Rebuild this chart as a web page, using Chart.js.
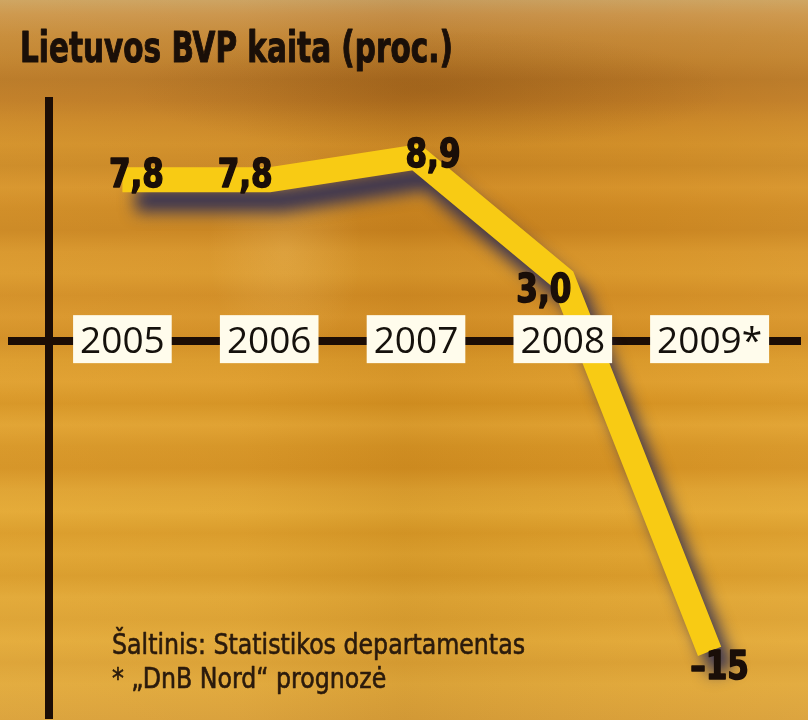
<!DOCTYPE html>
<html><head><meta charset="utf-8">
<script src="https://cdn.jsdelivr.net/npm/chart.js@4/dist/chart.umd.min.js"></script>
<style>html,body{margin:0;padding:0;background:#d48a1c;overflow:hidden}</style>
</head><body>
<canvas id="c" width="808" height="720" style="display:block;width:808px;height:720px"></canvas>
<script>
const titleText = 'Lietuvos BVP kaita (proc.)';
const years = ['2005', '2006', '2007', '2008', '2009*'];
const gdpChange = [7.8, 7.8, 8.9, 3.0, -15];
const valueLabels = ['7,8', '7,8', '8,9', '3,0', '\u201315'];
const sourceLines = ['\u0160altinis: Statistikos departamentas', '* \u201eDnB Nord\u201c prognoz\u0117'];

const NARROW = '"Liberation Sans Narrow", "Arial Narrow", "DejaVu Sans Condensed", sans-serif';
const REG = '"Open Sans", "Noto Sans", sans-serif';

function condensedText(ctx, text, x, y, weight, size, refText, refWidth, align, bolden) {
  ctx.font = weight + ' ' + size + 'px ' + NARROW;
  const sx = refWidth / ctx.measureText(refText).width;
  ctx.save();
  ctx.translate(x, y);
  ctx.scale(sx, 1);
  ctx.textAlign = align || 'left';
  if (bolden) {
    ctx.lineWidth = bolden;
    ctx.lineJoin = 'round';
    ctx.strokeStyle = ctx.fillStyle;
    ctx.strokeText(text, 0, 0);
  }
  ctx.fillText(text, 0, 0);
  ctx.restore();
}

function drawBackground(ctx, w, h) {
  const g = ctx.createLinearGradient(0, 0, 0, h);
  const stops = [
    [0.00, '#caa060'], [0.02, '#c9924a'], [0.05, '#c38636'], [0.08, '#be7e2c'],
    [0.11, '#b47222'], [0.14, '#bc7722'], [0.17, '#c98424'], [0.20, '#d08c26'],
    [0.23, '#c98522'], [0.26, '#d59028'], [0.29, '#cc8620'], [0.32, '#c8821e'],
    [0.35, '#d69228'], [0.38, '#d9962a'], [0.41, '#d08a22'], [0.44, '#d79228'],
    [0.47, '#cf8920'], [0.50, '#d99728'], [0.53, '#de9c2c'], [0.56, '#d49020'],
    [0.59, '#df9f2e'], [0.62, '#d59223'], [0.65, '#d28e20'], [0.68, '#dd9f2e'],
    [0.71, '#e2a632'], [0.74, '#d89826'], [0.77, '#dea12e'], [0.80, '#d79827'],
    [0.83, '#e0a534'], [0.86, '#db9f30'], [0.89, '#e2a838'], [0.92, '#da9f33'],
    [0.95, '#e0a73a'], [1.00, '#d89e38']
  ];
  stops.forEach(s => g.addColorStop(s[0], s[1]));
  ctx.fillStyle = g;
  ctx.fillRect(0, 0, w, h);
  const hg = ctx.createLinearGradient(0, 0, w, 0);
  hg.addColorStop(0, 'rgba(255,220,120,0.10)');
  hg.addColorStop(0.3, 'rgba(255,230,150,0.05)');
  hg.addColorStop(0.5, 'rgba(90,50,10,0.05)');
  hg.addColorStop(0.8, 'rgba(255,220,120,0.04)');
  hg.addColorStop(1, 'rgba(255,220,130,0.10)');
  ctx.fillStyle = hg;
  ctx.fillRect(0, 0, w, h);
  ctx.save();
  ctx.translate(430, 90);
  ctx.scale(5, 1);
  const dg = ctx.createRadialGradient(0, 0, 0, 0, 0, 60);
  dg.addColorStop(0, 'rgba(100,55,10,0.22)');
  dg.addColorStop(1, 'rgba(100,55,10,0)');
  ctx.fillStyle = dg;
  ctx.fillRect(-80, -60, 160, 120);
  ctx.restore();
  ctx.save();
  ctx.translate(285, 250);
  ctx.scale(0.7, 1);
  const rg = ctx.createRadialGradient(0, 0, 5, 0, 0, 110);
  rg.addColorStop(0, 'rgba(255,225,150,0.16)');
  rg.addColorStop(1, 'rgba(255,225,150,0)');
  ctx.fillStyle = rg;
  ctx.fillRect(-120, -120, 240, 240);
  ctx.restore();
}

const decor = {
  id: 'decor',
  beforeDraw(chart) {
    const ctx = chart.ctx;
    ctx.save();
    drawBackground(ctx, chart.width, chart.height);
    ctx.textBaseline = 'alphabetic';
    ctx.fillStyle = '#1a0f08';
    condensedText(ctx, titleText, 20, 62, 'bold', 42, titleText, 433, 'left', 1);
    ctx.fillStyle = '#2a1a0c';
    condensedText(ctx, sourceLines[0], 112, 654, 'normal', 29, sourceLines[0], 413, 'left', 0.6);
    condensedText(ctx, sourceLines[1], 112, 688, 'normal', 29, sourceLines[0], 413, 'left', 0.6);
    const y0 = chart.scales.y.getPixelForValue(0);
    ctx.fillStyle = '#1c0d05';
    ctx.fillRect(8, Math.round(y0) - 4, 793, 8);
    ctx.fillRect(45, 97, 8, 622);
    ctx.restore();
  },
  beforeDatasetDraw(chart) {
    const ctx = chart.ctx;
    ctx.save();
    ctx.shadowColor = 'rgba(45,45,85,0.92)';
    ctx.shadowBlur = 16;
    ctx.shadowOffsetX = 13;
    ctx.shadowOffsetY = 20;
  },
  afterDatasetDraw(chart) {
    chart.ctx.restore();
  },
  afterDatasetsDraw(chart) {
    const ctx = chart.ctx;
    const xs = chart.scales.x;
    const y0 = chart.scales.y.getPixelForValue(0);
    ctx.save();
    ctx.font = 'normal 37px ' + REG;
    ctx.textBaseline = 'middle';
    ctx.textAlign = 'center';
    years.forEach((yr, i) => {
      const cx = xs.getPixelForValue(i);
      const tw = ctx.measureText(yr).width;
      const bw = tw + 14;
      ctx.fillStyle = '#fffcec';
      ctx.fillRect(cx - bw / 2, y0 - 26, bw, 48);
      ctx.fillStyle = '#15110c';
      ctx.fillText(yr, cx, y0 + 1);
    });
    const offs = [[14, 7], [-24, 7], [17, 10], [-19, 23], [10, 28]];
    const meta = chart.getDatasetMeta(0);
    ctx.textBaseline = 'alphabetic';
    ctx.fillStyle = '#1a0e08';
    meta.data.forEach((pt, i) => {
      condensedText(ctx, valueLabels[i], pt.x + offs[i][0], pt.y + offs[i][1], 'bold', 39, '7,8', 55, 'center', 1.5);
    });
    ctx.restore();
  }
};

new Chart(document.getElementById('c'), {
  type: 'line',
  data: {
    labels: years,
    datasets: [{
      data: gdpChange,
      borderColor: '#f8cb14',
      borderWidth: 25,
      pointRadius: 0,
      tension: 0,
      borderJoinStyle: 'miter',
      borderCapStyle: 'butt',
      clip: false,
      fill: false
    }]
  },
  options: {
    responsive: false,
    animation: false,
    devicePixelRatio: 1,
    layout: { padding: { left: 49, right: 25, top: 93, bottom: 48 } },
    scales: {
      x: { type: 'category', display: false, offset: true },
      y: { display: false, min: -16, max: 12 }
    },
    plugins: { legend: { display: false }, tooltip: { enabled: false }, title: { display: false } }
  },
  plugins: [decor]
});
</script>
</body></html>
